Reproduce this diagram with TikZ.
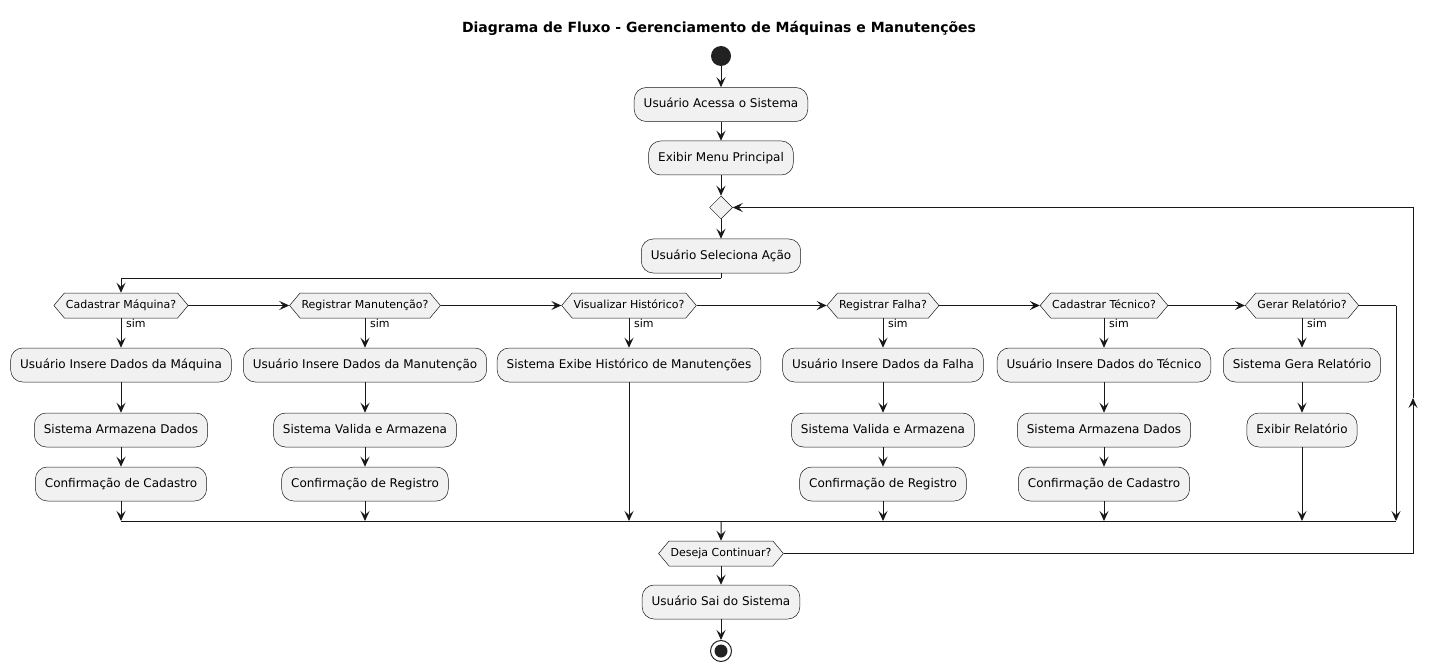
\documentclass[tikz,border=0pt]{standalone}
\usepackage{fontspec}
\setmainfont{DejaVu Sans}
\usetikzlibrary{arrows.meta,shapes.symbols,shapes.geometric}
\definecolor{lnc}{HTML}{181818}
\definecolor{bx}{HTML}{F1F1F1}
\definecolor{dot}{HTML}{222222}
\begin{document}
\begin{tikzpicture}[x=1pt,y=-1pt,
  act/.style={draw=lnc, line width=0.5pt, fill=bx, rounded corners=12pt, inner xsep=9.5pt, minimum height=34pt, font=\fontsize{12}{14}\selectfont, text height=9pt, text depth=2.5pt},
  dec/.style={signal, signal to=east and west, signal pointer angle=100, draw=lnc, line width=0.5pt, fill=bx, inner xsep=1.5pt, minimum height=25pt, font=\fontsize{11}{13}\selectfont, text height=8pt, text depth=2.5pt},
  arr/.style={draw=lnc, line width=1pt, -{Stealth[length=10pt,width=9pt,inset=4pt]}},
  wire/.style={draw=lnc, line width=1pt},
  lbl/.style={font=\fontsize{11}{13}\selectfont, anchor=base west, inner sep=0pt},
]
\useasboundingbox (0,0) rectangle (1438,671);
\node[font=\fontsize{14}{16}\selectfont\bfseries] (title) at (719,28) {Diagrama de Fluxo - Gerenciamento de Máquinas e Manutenções};
\node[circle, fill=dot, minimum size=20pt, inner sep=0pt] (start) at (721,56) {};
\node[act] (acessa) at (721,104.5) {Usuário Acessa o Sistema};
\node[act] (menu) at (721,158) {Exibir Menu Principal};
\node[diamond, draw=lnc, line width=0.5pt, fill=bx, minimum size=23pt, inner sep=0pt] (md) at (721,207.5) {};
\node[act] (sel) at (721,256) {Usuário Seleciona Ação};

\node[dec] (d1) at (121,305.5) {Cadastrar Máquina?};
\node[dec] (d2) at (365,305.5) {Registrar Manutenção?};
\node[dec] (d3) at (629,305.5) {Visualizar Histórico?};
\node[dec] (d4) at (883,305.5) {Registrar Falha?};
\node[dec] (d5) at (1104,305.5) {Cadastrar Técnico?};
\node[dec] (d6) at (1302,305.5) {Gerar Relatório?};

\node[act] (a1) at (121,365) {Usuário Insere Dados da Máquina};
\node[act] (b1) at (121,430) {Sistema Armazena Dados};
\node[act] (c1) at (121,484) {Confirmação de Cadastro};
\node[act] (a2) at (365,365) {Usuário Insere Dados da Manutenção};
\node[act] (b2) at (365,430) {Sistema Valida e Armazena};
\node[act] (c2) at (365,484) {Confirmação de Registro};
\node[act] (a3) at (629,365) {Sistema Exibe Histórico de Manutenções};
\node[act] (a4) at (883,365) {Usuário Insere Dados da Falha};
\node[act] (b4) at (883,430) {Sistema Valida e Armazena};
\node[act] (c4) at (883,484) {Confirmação de Registro};
\node[act] (a5) at (1104,365) {Usuário Insere Dados do Técnico};
\node[act] (b5) at (1104,430) {Sistema Armazena Dados};
\node[act] (c5) at (1104,484) {Confirmação de Cadastro};
\node[act] (a6) at (1302,365) {Sistema Gera Relatório};
\node[act] (b6) at (1302,430) {Exibir Relatório};

\node[dec] (des) at (721,553.5) {Deseja Continuar?};
\node[act] (sai) at (721,602) {Usuário Sai do Sistema};
\node[circle, draw=dot, line width=1pt, fill=white, minimum size=21pt, inner sep=0pt] (fim) at (721,651) {};
\node[circle, fill=dot, minimum size=13pt, inner sep=0pt] (fimin) at (721,651) {};

% coordinates
\coordinate (m1) at (121,521);
\coordinate (m2) at (365,521);
\coordinate (m3) at (629,521);
\coordinate (m4) at (883,521);
\coordinate (m5) at (1104,521);
\coordinate (m6) at (1302,521);
\coordinate (jr) at (1396,305.5);
\coordinate (mr) at (1396,521);
\coordinate (mc) at (721,521);
\coordinate (lb) at (1413,553.5);
\coordinate (lt) at (1413,207.5);
\coordinate (la) at (1413,398);
\coordinate (sp) at (721,278);

% main flow
\draw[arr] (start) -- (acessa);
\draw[arr] (acessa) -- (menu);
\draw[arr] (menu) -- (md);
\draw[arr] (md) -- (sel);
\draw[wire] (sel.south) -- (sp);
\draw[arr] (sp) -| (d1.north);

% decision chain
\draw[arr] (d1.east) -- (d2.west);
\draw[arr] (d2.east) -- (d3.west);
\draw[arr] (d3.east) -- (d4.west);
\draw[arr] (d4.east) -- (d5.west);
\draw[arr] (d5.east) -- (d6.west);
\draw[wire] (d6.east) -- (jr);
\draw[arr] (jr) -- (mr);

% branches
\draw[arr] (d1.south) -- (a1);
\draw[arr] (a1) -- (b1);
\draw[arr] (b1) -- (c1);
\draw[arr] (c1) -- (m1);
\draw[arr] (d2.south) -- (a2);
\draw[arr] (a2) -- (b2);
\draw[arr] (b2) -- (c2);
\draw[arr] (c2) -- (m2);
\draw[arr] (d3.south) -- (a3);
\draw[arr] (a3) -- (m3);
\draw[arr] (d4.south) -- (a4);
\draw[arr] (a4) -- (b4);
\draw[arr] (b4) -- (c4);
\draw[arr] (c4) -- (m4);
\draw[arr] (d5.south) -- (a5);
\draw[arr] (a5) -- (b5);
\draw[arr] (b5) -- (c5);
\draw[arr] (c5) -- (m5);
\draw[arr] (d6.south) -- (a6);
\draw[arr] (a6) -- (b6);
\draw[arr] (b6) -- (m6);

\node[lbl] (s1) at (126,327) {sim};
\node[lbl] (s2) at (370,327) {sim};
\node[lbl] (s3) at (634,327) {sim};
\node[lbl] (s4) at (888,327) {sim};
\node[lbl] (s5) at (1109,327) {sim};
\node[lbl] (s6) at (1307,327) {sim};

% merge
\draw[wire] (m1) -- (mr);
\draw[arr] (mc) -- (des);

% loop back
\draw[wire] (des.east) -- (lb);
\draw[arr] (lb) -- (la);
\draw[wire] (la) -- (lt);
\draw[arr] (lt) -- (md.east);

% exit
\draw[arr] (des.south) -- (sai);
\draw[arr] (sai) -- (fim);
\end{tikzpicture}
\end{document}
